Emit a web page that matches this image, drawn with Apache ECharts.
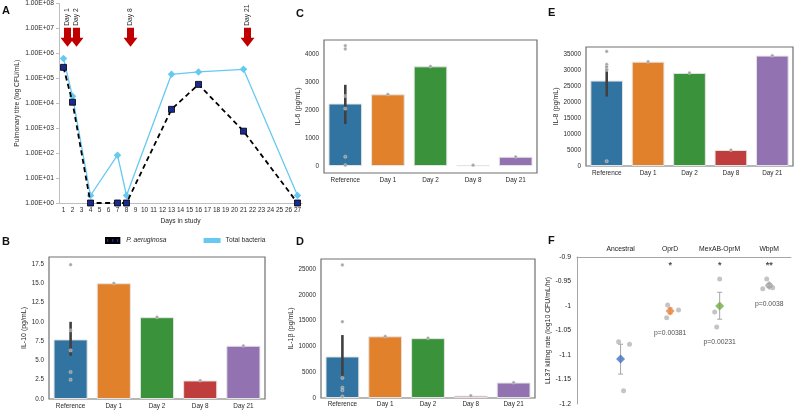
<!DOCTYPE html>
<html>
<head>
<meta charset="utf-8">
<script src="https://cdn.jsdelivr.net/npm/echarts@6/dist/echarts.min.js"></script>
<style>
html,body{margin:0;padding:0;background:#fff;}
#c{width:795px;height:414px;}
</style>
</head>
<body>
<div id="c"></div>
<script>
// ---------- Panel A data ----------
const days = ['1','2','3','4','5','6','7','8','9','10','11','12','13','14','15','16','17','18','19','20','21','22','23','24','25','26','27'];
const paDays = ['1','2','4','7','8','13','16','21','27'];
const paValues = [2.75e5, 1.1e4, 1, 1, 1, 5.7e3, 5.7e4, 760, 1];
const totalDays = ['1','2','4','7','8','13','16','21','27'];
const totalValues = [6.3e5, 1.9e4, 2, 83, 2, 1.45e5, 1.8e5, 2.3e5, 2];
const arrowDays = ['1','2','8','21'];
const arrowLabels = ['Day 1','Day 2','Day 8','Day 21'];
const logTicks = [1,10,100,1e3,1e4,1e5,1e6,1e7,1e8];

// ---------- Cytokine panels ----------
const groups = ['Reference','Day 1','Day 2','Day 8','Day 21'];
const il10 = [7.72, 15.0, 10.6, 2.4, 6.9];
const il10Ref = [17.4, 8.9, 6.3, 3.5, 2.5];
const il10Err = [5.6, 10.0];
const il10Ticks = [0, 2.5, 5, 7.5, 10, 12.5, 15, 17.5];

const il6 = [2232, 2560, 3560, 30, 330];
const il6Ref = [4300, 4180, 2500, 2050, 330, 30];
const il6Err = [1500, 2900];
const il6Ticks = [0, 1000, 2000, 3000, 4000];

const il1b = [8050, 11950, 11600, 450, 3000];
const il1bRef = [25800, 14800, 3900, 2000, 1500, 300];
const il1bErr = [3900, 12200];
const il1bTicks = [0, 5000, 10000, 15000, 20000, 25000];

const il8 = [26700, 32600, 29100, 5000, 34500];
const il8Ref = [35800, 31800, 31000, 30200, 30000, 1500];
const il8Err = [21700, 31300];
const il8Ticks = [0, 5000, 10000, 15000, 20000, 25000, 30000, 35000];

// ---------- Panel F data ----------
const fGroups = ['Ancestral','OprD','MexAB-OprM','WbpM'];
const fPos = [1, 2, 3, 4];
const fMeans = [-1.108, -1.010, -1.000, -0.958];
const fErrLow = [-1.139, -1.016, -1.027, -0.962];
const fErrHigh = [-1.078, -1.004, -0.972, -0.954];
const fPointsX = [0.96, 1.18, 1.06, 1.95, 2.17, 1.93, 3.0, 2.9, 2.94, 3.95, 3.87, 4.07];
const fPointsY = [-1.073, -1.078, -1.173, -0.998, -1.008, -1.024, -0.945, -1.012, -1.043, -0.945, -0.965, -0.963];
const fStars = ['', '*', '*', '**'];
const fPvals = ['', 'p=0.00381', 'p=0.00231', 'p=0.0038'];
const fTicks = [-1.2, -1.15, -1.1, -1.05, -1, -0.95, -0.9];

// ---------- styles ----------
const FONT = 'Liberation Sans, Arial, sans-serif';
const barColors = ['#3274a1', '#e1812c', '#3a923a', '#c03d3e', '#9372b2'];
const fColors = ['#4472c4', '#ed7d31', '#70ad47', '#a5a5a5'];
const TXT = '#2a2a2a';

const arrowPath = 'path://M4,0 L12,0 L12,10 L16,10 L8,19 L0,10 L4,10 Z';

function fmtLog(v){
  const e = Math.round(Math.log10(v));
  return '1.00E+' + (e < 10 ? '0' + e : e);
}

const grids = [
  {left:59, top:3, width:243, height:200},
  {left:49, top:257, width:216, height:142, show:true, borderColor:'#707070', borderWidth:1.2},
  {left:324, top:40, width:213, height:133, show:true, borderColor:'#707070', borderWidth:1.2},
  {left:321, top:259, width:214, height:139, show:true, borderColor:'#707070', borderWidth:1.2},
  {left:586, top:47, width:207, height:119, show:true, borderColor:'#707070', borderWidth:1.2},
  {left:577, top:257, width:214, height:147}
];

function catAxis(gi, margin){
  return {gridIndex:gi, type:'category', data:groups, boundaryGap:true,
    axisLine:{show:false}, axisTick:{show:false},
    axisLabel:{fontSize:6.4, color:TXT, fontFamily:FONT, margin:margin}};
}
function valAxis(gi, min, max, ticks, name, gap, fmt){
  return {gridIndex:gi, type:'value', min:min, max:max,
    axisLine:{show:false}, axisTick:{show:false}, splitLine:{show:false},
    axisLabel:{fontSize:6.3, color:TXT, fontFamily:FONT, margin:5,
      customValues:ticks, formatter: fmt || (v => String(v))},
    name:name, nameLocation:'middle', nameGap:gap, nameRotate:90,
    nameTextStyle:{fontSize:7, color:TXT, fontFamily:FONT}};
}

function errRender(params, api){
  const x = api.value(0), lo = api.value(1), hi = api.value(2);
  const p1 = api.coord([x, lo]), p2 = api.coord([x, hi]);
  return {type:'line', shape:{x1:p1[0], y1:p1[1], x2:p2[0], y2:p2[1]},
    style:{stroke:'#404040', lineWidth:2.6}};
}
function errRenderF(params, api){
  const x = api.value(0), lo = api.value(1), hi = api.value(2);
  const p1 = api.coord([x, lo]), p2 = api.coord([x, hi]);
  const s = {stroke:'#a6a6a6', lineWidth:1};
  return {type:'group', children:[
    {type:'line', shape:{x1:p1[0], y1:p1[1], x2:p2[0], y2:p2[1]}, style:s},
    {type:'line', shape:{x1:p1[0]-2.5, y1:p1[1], x2:p1[0]+2.5, y2:p1[1]}, style:s},
    {type:'line', shape:{x1:p2[0]-2.5, y1:p2[1], x2:p2[0]+2.5, y2:p2[1]}, style:s}
  ]};
}

function cytoSeries(ai, vals, refPts, err){
  const pts = refPts.map(v => [0, v]);
  for (let i = 1; i < vals.length; i++) pts.push([i, vals[i]]);
  return [
    {type:'bar', xAxisIndex:ai, yAxisIndex:ai, data:vals, barWidth:'79%',
      itemStyle:{color: p => barColors[p.dataIndex], borderColor:'#e4e4e4', borderWidth:1}, silent:true},
    {type:'custom', xAxisIndex:ai, yAxisIndex:ai, renderItem:errRender,
      data:[[0, err[0], err[1]]], z:5, silent:true},
    {type:'scatter', xAxisIndex:ai, yAxisIndex:ai, data:pts, symbolSize:3.2,
      itemStyle:{color:'#9a9a9a', opacity:0.9, borderColor:'#dddddd', borderWidth:0.5}, z:6, silent:true}
  ];
}

const chart = echarts.init(document.getElementById('c'), null, {renderer:'canvas'});

const series = [
  {name:'Total bacteria', type:'line', xAxisIndex:0, yAxisIndex:0,
    data: totalDays.map((d,i) => [d, totalValues[i]]),
    lineStyle:{color:'#66c9f2', width:1.3}, itemStyle:{color:'#66c9f2'},
    symbol:'diamond', symbolSize:7.5, z:3, silent:true,
    markPoint:{
      symbol:arrowPath, symbolSize:[14,19], symbolOffset:[4,0], silent:true,
      itemStyle:{color:'#c00000'},
      label:{show:true, formatter:'{b}', position:'top', distance:2, rotate:90,
        align:'left', verticalAlign:'middle', fontSize:6.7, color:TXT, fontFamily:FONT},
      data: arrowDays.map((d,i) => ({name:arrowLabels[i], coord:[d, 4.4e6]}))
    }},
  {name:'P. aeruginosa', type:'line', xAxisIndex:0, yAxisIndex:0,
    data: paDays.map((d,i) => [d, paValues[i]]),
    lineStyle:{color:'#000', width:1.8, type:[5,3.5]},
    itemStyle:{color:'#1b2a8e', borderColor:'#000', borderWidth:0.8},
    symbol:'rect', symbolSize:6, z:4, silent:true},
  ...cytoSeries(1, il10, il10Ref, il10Err),
  ...cytoSeries(2, il6, il6Ref, il6Err),
  ...cytoSeries(3, il1b, il1bRef, il1bErr),
  ...cytoSeries(4, il8, il8Ref, il8Err),
  {type:'custom', xAxisIndex:5, yAxisIndex:5, renderItem:errRenderF,
    data: fPos.map((x,i) => [x, fErrLow[i], fErrHigh[i]]), z:3, silent:true},
  {type:'scatter', xAxisIndex:5, yAxisIndex:5,
    data: fPointsX.map((x,i) => [x, fPointsY[i]]), symbolSize:5,
    itemStyle:{color:'#b5b5b5'}, z:2, silent:true},
  {type:'scatter', xAxisIndex:5, yAxisIndex:5,
    data: fPos.map((x,i) => ({value:[x, fMeans[i]], itemStyle:{color:fColors[i]}})),
    symbol:'diamond', symbolSize:9, z:4, silent:true},
  {type:'scatter', xAxisIndex:5, yAxisIndex:5, symbolSize:0,
    data: fPos.map((x,i) => ({value:[x, -0.918], name:fStars[i]})),
    label:{show:true, position:'inside', formatter:'{b}', fontSize:9, fontWeight:'bold', color:'#222', fontFamily:FONT},
    silent:true},
  {type:'scatter', xAxisIndex:5, yAxisIndex:5, symbolSize:0,
    data: fPos.map((x,i) => {
      const lows = fPointsY.filter((y,j) => Math.round(fPointsX[j]) === x).concat([fErrLow[i]]);
      return {value:[x, Math.min(...lows) - 0.031], name:fPvals[i]};
    }),
    label:{show:true, position:'inside', formatter:'{b}', fontSize:6.8, color:'#222', fontFamily:FONT},
    silent:true}
];

const option = {
  animation:false,
  backgroundColor:'#fff',
  textStyle:{fontFamily:FONT},
  title:[
    {text:'A', left:2, top:5},
    {text:'B', left:2, top:236},
    {text:'C', left:296, top:8},
    {text:'D', left:296, top:236},
    {text:'E', left:548, top:7},
    {text:'F', left:548, top:235}
  ].map(t => Object.assign(t, {padding:0, textStyle:{fontSize:11, fontWeight:'bold', color:'#111', fontFamily:FONT}})),
  legend:{
    left:100, top:232, itemWidth:17, itemHeight:5, itemGap:37,
    data:[
      {name:'P. aeruginosa', icon:'path://M0,0h4v6h-4z M6,0h4v6h-4z M12,0h4v6h-4z'},
      {name:'Total bacteria', icon:'rect'}
    ],
    formatter: n => n === 'P. aeruginosa' ? '{i|' + n + '}' : n,
    textStyle:{fontSize:6.7, color:TXT, fontFamily:FONT, rich:{i:{fontStyle:'italic', fontSize:6.7, fontFamily:FONT, color:TXT}}},
    selectedMode:false
  },
  grid: grids,
  xAxis:[
    {gridIndex:0, type:'category', data:days, boundaryGap:true,
      axisLine:{show:true, lineStyle:{color:'#bfbfbf'}}, axisTick:{show:false},
      axisLabel:{fontSize:6.5, color:TXT, fontFamily:FONT, margin:4, interval:0},
      name:'Days in study', nameLocation:'middle', nameGap:15,
      nameTextStyle:{fontSize:6.7, color:TXT, fontFamily:FONT}},
    catAxis(1, 4),
    catAxis(2, 4),
    catAxis(3, 3),
    catAxis(4, 4),
    {gridIndex:5, type:'value', position:'top', min:0.12, max:4.44,
      axisLine:{show:true, lineStyle:{color:'#a6a6a6'}}, axisTick:{show:false}, splitLine:{show:false},
      axisLabel:{fontSize:6.8, color:'#222', fontFamily:FONT, margin:4,
        customValues:fPos, formatter: v => fGroups[Math.round(v) - 1] || ''}}
  ],
  yAxis:[
    {gridIndex:0, type:'log', logBase:10, min:1, max:1e8, splitNumber:8,
      axisLine:{show:true, lineStyle:{color:'#bfbfbf'}},
      axisTick:{show:true, length:3, lineStyle:{color:'#bfbfbf'}}, splitLine:{show:false},
      axisLabel:{fontSize:6.7, color:TXT, fontFamily:FONT, margin:5, formatter:fmtLog},
      name:'Pulmonary titre (log CFU/mL)', nameLocation:'middle', nameGap:38, nameRotate:90,
      nameTextStyle:{fontSize:6.7, color:TXT, fontFamily:FONT}},
    valAxis(1, 0, 18.4, il10Ticks, 'IL-10 (pg/mL)', 17, v => v.toFixed(1)),
    valAxis(2, -250, 4500, il6Ticks, 'IL-6 (pg/mL)', 20),
    valAxis(3, 0, 26940, il1bTicks, 'IL-1β (pg/mL)', 24),
    valAxis(4, 0, 37190, il8Ticks, 'IL-8 (pg/mL)', 25),
    {gridIndex:5, type:'value', min:-1.2, max:-0.9,
      axisLine:{show:true, lineStyle:{color:'#a6a6a6'}}, axisTick:{show:false}, splitLine:{show:false},
      axisLabel:{fontSize:6.8, color:'#222', fontFamily:FONT, margin:6,
        customValues:fTicks, formatter: v => String(+v.toFixed(2))},
      name:'LL37 killing rate (log10 CFU/mL/hr)', nameLocation:'middle', nameGap:23, nameRotate:90,
      nameTextStyle:{fontSize:6.9, color:'#222', fontFamily:FONT}}
  ],
  series: series
};
chart.setOption(option);
</script>
</body>
</html>
